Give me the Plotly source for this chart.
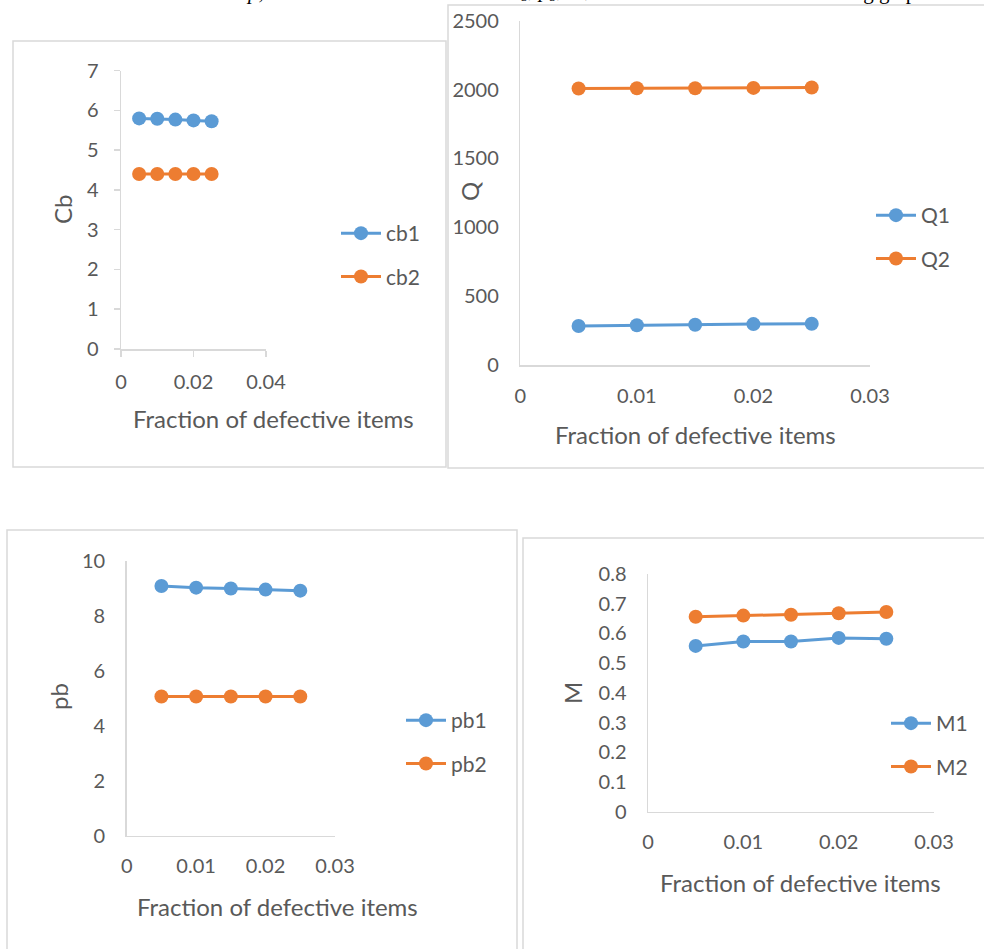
import plotly.graph_objects as go

W, H = 984, 949

x_frac = [0.005, 0.01, 0.015, 0.02, 0.025]
cb1 = [5.80, 5.79, 5.77, 5.75, 5.73]
cb2 = [4.40, 4.40, 4.40, 4.40, 4.40]
q1 = [283, 289, 292, 297, 300]
q2 = [2008, 2009, 2010, 2012, 2015]
pb1 = [9.08, 9.02, 8.99, 8.95, 8.91]
pb2 = [5.06, 5.06, 5.06, 5.06, 5.06]
m1 = [0.558, 0.573, 0.573, 0.585, 0.582]
m2 = [0.656, 0.660, 0.663, 0.668, 0.672]

BLUE = "#5B9BD5"
ORANGE = "#ED7D31"
GRID = "#D9D9D9"
TXT = "#595959"
FONT = "Lato"
FS = 20
FT = 24


def px(x):
    return x / W


def py(y):
    return 1 - y / H


fig = go.Figure()

panels = [
    dict(s=[("cb1", cb1, BLUE), ("cb2", cb2, ORANGE)], ax="", leg="legend",
         xr=[0, 0.04], yr=[0, 7], dx=0.02, dy=1, box=(121, 266, 70.7, 349), ticks=True),
    dict(s=[("Q1", q1, BLUE), ("Q2", q2, ORANGE)], ax="2", leg="legend2",
         xr=[0, 0.03], yr=[0, 2500], dx=0.01, dy=500, box=(520.3, 870, 20.7, 365), ticks=False),
    dict(s=[("pb1", pb1, BLUE), ("pb2", pb2, ORANGE)], ax="3", leg="legend3",
         xr=[0, 0.03], yr=[0, 10], dx=0.01, dy=2, box=(126.7, 335, 560.7, 835.7), ticks=False),
    dict(s=[("M1", m1, BLUE), ("M2", m2, ORANGE)], ax="4", leg="legend4",
         xr=[0, 0.03], yr=[0, 0.8], dx=0.01, dy=0.1, box=(648, 934, 574, 811.7), ticks=False),
]

legend_pos = {
    "legend": (336, 213),
    "legend2": (871, 195),
    "legend3": (401, 700),
    "legend4": (886, 703),
}

layout = {}
for i, p in enumerate(panels):
    for name, vals, col in p["s"]:
        fig.add_trace(go.Scatter(
            x=x_frac, y=vals, name=name, mode="lines+markers",
            line=dict(color=col, width=3),
            marker=dict(color=col, size=14),
            xaxis="x" + p["ax"], yaxis="y" + p["ax"],
            legend=p["leg"], legendgroup=name, cliponaxis=False,
        ))
    x0, x1, y0, y1 = p["box"]
    tick = "outside" if p["ticks"] else ""
    layout["xaxis" + p["ax"]] = dict(
        domain=[px(x0), px(x1)], range=p["xr"], dtick=p["dx"], tick0=0,
        anchor="y" + p["ax"], showline=True, linecolor=GRID, linewidth=1.5,
        showgrid=False, zeroline=False, ticks=tick, ticklen=6, tickcolor=GRID,
        tickwidth=1.5, tickfont=dict(family=FONT, size=FS, color=TXT),
        ticklabelstandoff=8 if p["ticks"] else 12, fixedrange=True, automargin=False,
    )
    layout["yaxis" + p["ax"]] = dict(
        domain=[py(y1), py(y0)], range=p["yr"], dtick=p["dy"], tick0=0,
        anchor="x" + p["ax"], showline=True, linecolor=GRID, linewidth=1.5,
        showgrid=False, zeroline=False, ticks=tick, ticklen=6, tickcolor=GRID,
        tickwidth=1.5, tickfont=dict(family=FONT, size=FS, color=TXT),
        ticklabelstandoff=11 if p["ticks"] else 16, fixedrange=True, automargin=False,
    )
    lx, ly = legend_pos[p["leg"]]
    layout[p["leg"]] = dict(
        x=px(lx), y=py(ly), xanchor="left", yanchor="top",
        font=dict(family=FONT, size=21, color=TXT), bgcolor="rgba(0,0,0,0)",
        tracegroupgap=13, itemwidth=40,
    )

# axis titles
ytitles = [("Cb", 63, 210), ("Q", 470, 192), ("pb", 58, 697), ("M", 572, 693)]
xtitles = [(273, 419), (695, 435), (277, 906), (800, 882)]
ann = []
for t, x, y in ytitles:
    ann.append(dict(text=t, x=px(x), y=py(y), xref="paper", yref="paper",
                    showarrow=False, textangle=-90, xanchor="center", yanchor="middle",
                    font=dict(family=FONT, size=FT, color=TXT)))
for x, y in xtitles:
    ann.append(dict(text="Fraction of defective items", x=px(x), y=py(y),
                    xref="paper", yref="paper", showarrow=False,
                    xanchor="center", yanchor="middle",
                    font=dict(family=FONT, size=FT, color=TXT)))

# cut-off line of body text at the very top of the page
serif = dict(family="Liberation Serif", size=21, color="#000000")
for t, x in [("<i>p</i>,", 244), ("<i>C<sub>b</sub></i>, <i>p<sub>b</sub></i>, <i>M</i>, <i>Q</i>", 505),
             ("following graphs", 790)]:
    ann.append(dict(text=t, x=px(x), y=py(6), xref="paper", yref="paper",
                    showarrow=False, xanchor="left", yanchor="bottom",
                    font=serif))

# panel borders
shapes = []
for (a, b, c, d) in [(13, 446, 41, 467), (448, 990, 5, 468), (7, 517, 530, 960), (523, 990, 538, 960)]:
    shapes.append(dict(type="rect", xref="paper", yref="paper",
                       x0=px(a), x1=px(b), y0=py(d), y1=py(c),
                       line=dict(color=GRID, width=1.5), fillcolor="rgba(0,0,0,0)", layer="below"))

fig.update_layout(
    width=W, height=H, margin=dict(l=0, r=0, t=0, b=0, autoexpand=False),
    paper_bgcolor="white", plot_bgcolor="white", hovermode=False,
    annotations=ann, shapes=shapes, **layout,
)

fig.write_html("out.html", config={"displayModeBar": False, "staticPlot": True},
               post_script="document.body.style.margin='0';document.body.style.overflow='hidden';")
